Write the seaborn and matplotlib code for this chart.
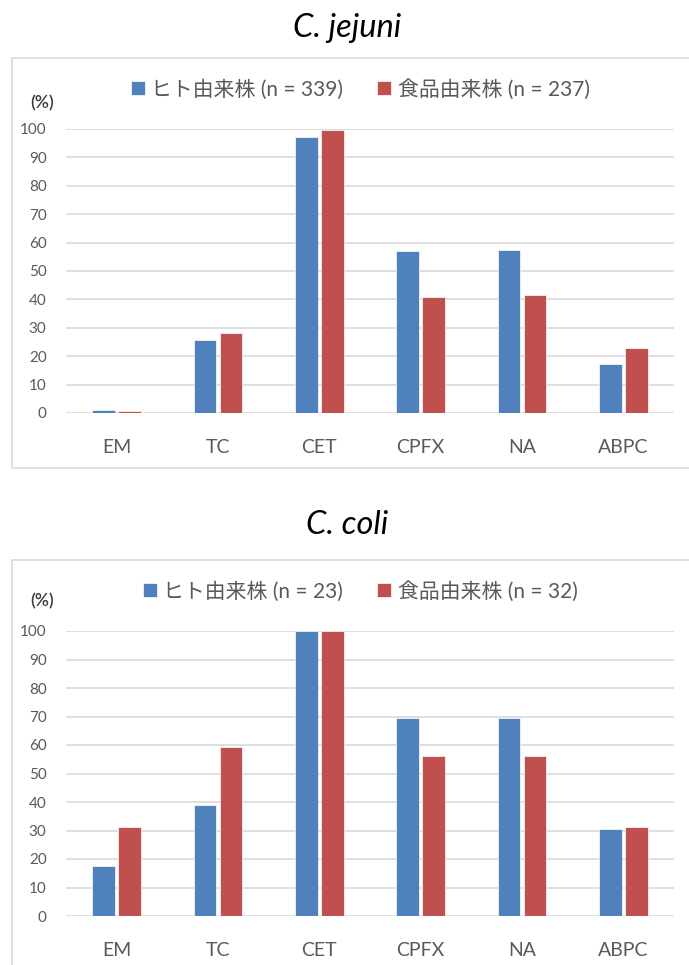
import matplotlib
matplotlib.use("Agg")
import matplotlib.pyplot as plt
from matplotlib.patches import Rectangle
import pandas as pd
import seaborn as sns

# Resistance rates (%) by antimicrobial
categories = ["EM", "TC", "CET", "CPFX", "NA", "ABPC"]
jejuni_human = [1.2, 25.8, 97.1, 57.2, 57.5, 17.4]
jejuni_food = [0.8, 28.3, 99.6, 40.9, 41.4, 22.8]
coli_human = [17.4, 39.1, 100.0, 69.6, 69.6, 30.4]
coli_food = [31.3, 59.4, 100.0, 56.3, 56.3, 31.3]

jejuni_labels = ["ヒト由来株 (n = 339)", "食品由来株 (n = 237)"]
coli_labels = ["ヒト由来株 (n = 23)", "食品由来株 (n = 32)"]
titles = ["C. jejuni", "C. coli"]
yticks = list(range(0, 101, 10))

BLUE = "#4F81BD"
RED = "#C0504D"
GRID = "#D9D9D9"
TXT = "#595959"

sns.set_theme(style="white")
plt.rcParams["font.family"] = ["Lato", "Noto Sans CJK JP", "DejaVu Sans"]

W, H = 689, 965
fig = plt.figure(figsize=(W / 100, H / 100), dpi=100)


def fx(px):
    return px / W


def fy(py):
    return 1 - py / H


def long_frame(human, food, labels):
    return pd.DataFrame({
        "drug": categories * 2,
        "rate": list(human) + list(food),
        "group": [labels[0]] * len(categories) + [labels[1]] * len(categories),
    })


panels = [
    dict(human=jejuni_human, food=jejuni_food, labels=jejuni_labels,
         title=titles[0], ax_top=129, ax_bot=413, box_top=58, box_bot=468,
         title_y=28, legend_y=89, pct_y=103, legend_x=360),
    dict(human=coli_human, food=coli_food, labels=coli_labels,
         title=titles[1], ax_top=631, ax_bot=916, box_top=560, box_bot=H + 20,
         title_y=525, legend_y=591, pct_y=601, legend_x=360),
]

for p in panels:
    # outer frame of each chart block
    fig.add_artist(Rectangle((fx(12), fy(p["box_bot"])), fx(700), fy(p["box_top"]) - fy(p["box_bot"]),
                             transform=fig.transFigure, fill=False, edgecolor=GRID, lw=1.2))

    ax = fig.add_axes([fx(66), fy(p["ax_bot"]), fx(674 - 66), fy(p["ax_top"]) - fy(p["ax_bot"])])
    df = long_frame(p["human"], p["food"], p["labels"])
    sns.barplot(data=df, x="drug", y="rate", hue="group", order=categories,
                hue_order=p["labels"], palette=[BLUE, RED], width=0.51, gap=0.125,
                edgecolor="white", linewidth=0.5, saturation=1, ax=ax, zorder=3)
    handles, lbls = ax.get_legend_handles_labels()
    if ax.get_legend() is not None:
        ax.get_legend().remove()

    ax.set_ylim(0, 100)
    ax.set_xlim(-0.5, len(categories) - 0.5)
    ax.set_yticks(yticks)
    ax.set_yticklabels([str(t) for t in yticks], fontsize=11, color=TXT)
    ax.set_xticks(range(len(categories)))
    ax.set_xticklabels(categories, fontsize=14, color=TXT)
    ax.tick_params(axis="x", length=0, pad=19)
    ax.tick_params(axis="y", length=0, pad=14)
    ax.set_xlabel("")
    ax.set_ylabel("")
    for s in ax.spines.values():
        s.set_visible(False)
    ax.grid(axis="y", color=GRID, lw=1.2, zorder=0)
    ax.set_axisbelow(True)

    fig.text(fx(347), fy(p["title_y"]), p["title"], fontsize=23.5, style="italic",
             ha="center", va="center", color="black")
    fig.text(fx(42), fy(p["pct_y"]), "(%)", fontsize=12.5, ha="center", va="center",
             color="#3A3A3A", fontweight="semibold")

    fig.legend(handles, lbls, loc="center", bbox_to_anchor=(fx(p["legend_x"]), fy(p["legend_y"])),
               ncol=2, frameon=False, fontsize=15, handlelength=0.7, handleheight=0.7,
               handletextpad=0.3, columnspacing=1.6, labelcolor=TXT)

fig.savefig("out.png", dpi=100, facecolor="white")
